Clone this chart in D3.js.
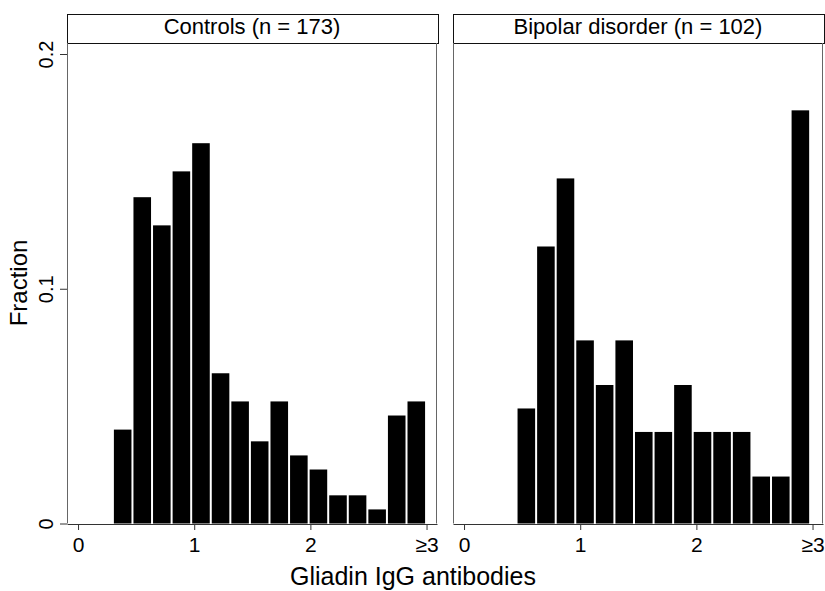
<!DOCTYPE html>
<html>
  <head>
    <style>
      body { margin: 0; background: #fff; }
      svg text { font-family: "Liberation Sans", Arial, sans-serif; fill: #000; }
      .bar { fill: #000; }
      .frame { fill: none; stroke: #666; stroke-width: 1; }
      .head { fill: #fff; stroke: #111; stroke-width: 1; }
      .axis path, .axis line { stroke: #333; }
    </style>
  </head>
  <body>
    <div class="chart"></div>

    <script src="https://d3js.org/d3.v7.min.js"></script>
    <script type="text/javascript">
      // histogram fractions
      const panels = ["Controls (n = 173)", "Bipolar disorder (n = 102)"];
      const controls = [0.040, 0.139, 0.127, 0.150, 0.162, 0.064, 0.052, 0.035,
                        0.052, 0.029, 0.023, 0.012, 0.012, 0.006, 0.046, 0.052];
      const bipolar = [0.049, 0.118, 0.147, 0.078, 0.059, 0.078, 0.039, 0.039,
                       0.059, 0.039, 0.039, 0.039, 0.020, 0.020, 0.176];
      const binStart = [0.300, 0.452];
      const binWidth = 0.1685;
      const xTicks = [0, 1, 2, 3];
      const xTickLabels = ["0", "1", "2", "\u22653"];
      const yTicks = [0, 0.1, 0.2];
      const yTickLabels = ["0", "0.1", "0.2"];

      (function() {
        const width = 825, height = 591;
        const plotTop = 43, plotBottom = 523.5, headTop = 14;
        const panelW = 370;
        const panelX = [67, 453];
        const series = [controls, bipolar];

        const svg = d3.select(".chart").append("svg")
          .attr("width", width)
          .attr("height", height);

        const x = d3.scaleLinear().domain([-0.095, 3.09]).range([0, panelW]);
        const y = d3.scaleLinear().domain([0, 0.2]).range([plotBottom, 54]);

        panels.forEach(function(title, p) {
          const g = svg.append("g").attr("transform", "translate(" + panelX[p] + ",0)");

          // header strip
          g.append("rect").attr("class", "head")
            .attr("x", 0.5).attr("y", headTop + 0.5)
            .attr("width", panelW + 1).attr("height", plotTop - headTop);
          g.append("text")
            .attr("x", panelW / 2).attr("y", 34)
            .attr("text-anchor", "middle")
            .style("font-size", "22px")
            .text(title);

          // plot frame sides
          g.append("line").attr("class", "frame")
            .attr("x1", 0.5).attr("x2", 0.5).attr("y1", plotTop).attr("y2", plotBottom);
          g.append("line").attr("class", "frame")
            .attr("x1", panelW - 0.5).attr("x2", panelW - 0.5).attr("y1", plotTop).attr("y2", plotBottom);

          // bars
          g.selectAll("rect.bar")
            .data(series[p])
            .enter().append("rect")
            .attr("class", "bar")
            .attr("x", function(d, i) { return x(binStart[p] + i * binWidth) + 1; })
            .attr("width", function() { return x(binWidth) - x(0) - 2; })
            .attr("y", function(d) { return y(d); })
            .attr("height", function(d) { return plotBottom - y(d); });

          // x axis
          const xAxis = g.append("g").attr("class", "axis")
            .attr("transform", "translate(0," + (plotBottom + 0.5) + ")")
            .call(d3.axisBottom(x).tickValues(xTicks).tickSize(6).tickSizeOuter(0)
              .tickFormat(function(d, i) { return xTickLabels[i]; }));
          xAxis.selectAll("text").style("font-size", "21px").attr("dy", "0.95em").attr("y", 8);

          if (p === 0) {
            const yAxis = g.append("g").attr("class", "axis")
              .call(d3.axisLeft(y).tickValues(yTicks).tickSize(7).tickSizeOuter(0)
                .tickFormat(function(d, i) { return yTickLabels[i]; }));
            yAxis.select(".domain").remove();
            yAxis.selectAll("text")
              .attr("x", null).attr("dy", null)
              .attr("transform", "translate(-14,0) rotate(-90)")
              .attr("text-anchor", "middle")
              .style("font-size", "20px");
          }
        });

        svg.append("text")
          .attr("transform", "translate(27,283) rotate(-90)")
          .attr("text-anchor", "middle")
          .style("font-size", "24px")
          .text("Fraction");

        svg.append("text")
          .attr("x", 413).attr("y", 585)
          .attr("text-anchor", "middle")
          .style("font-size", "25px")
          .text("Gliadin IgG antibodies");
      })()
    </script>
  </body>
</html>
